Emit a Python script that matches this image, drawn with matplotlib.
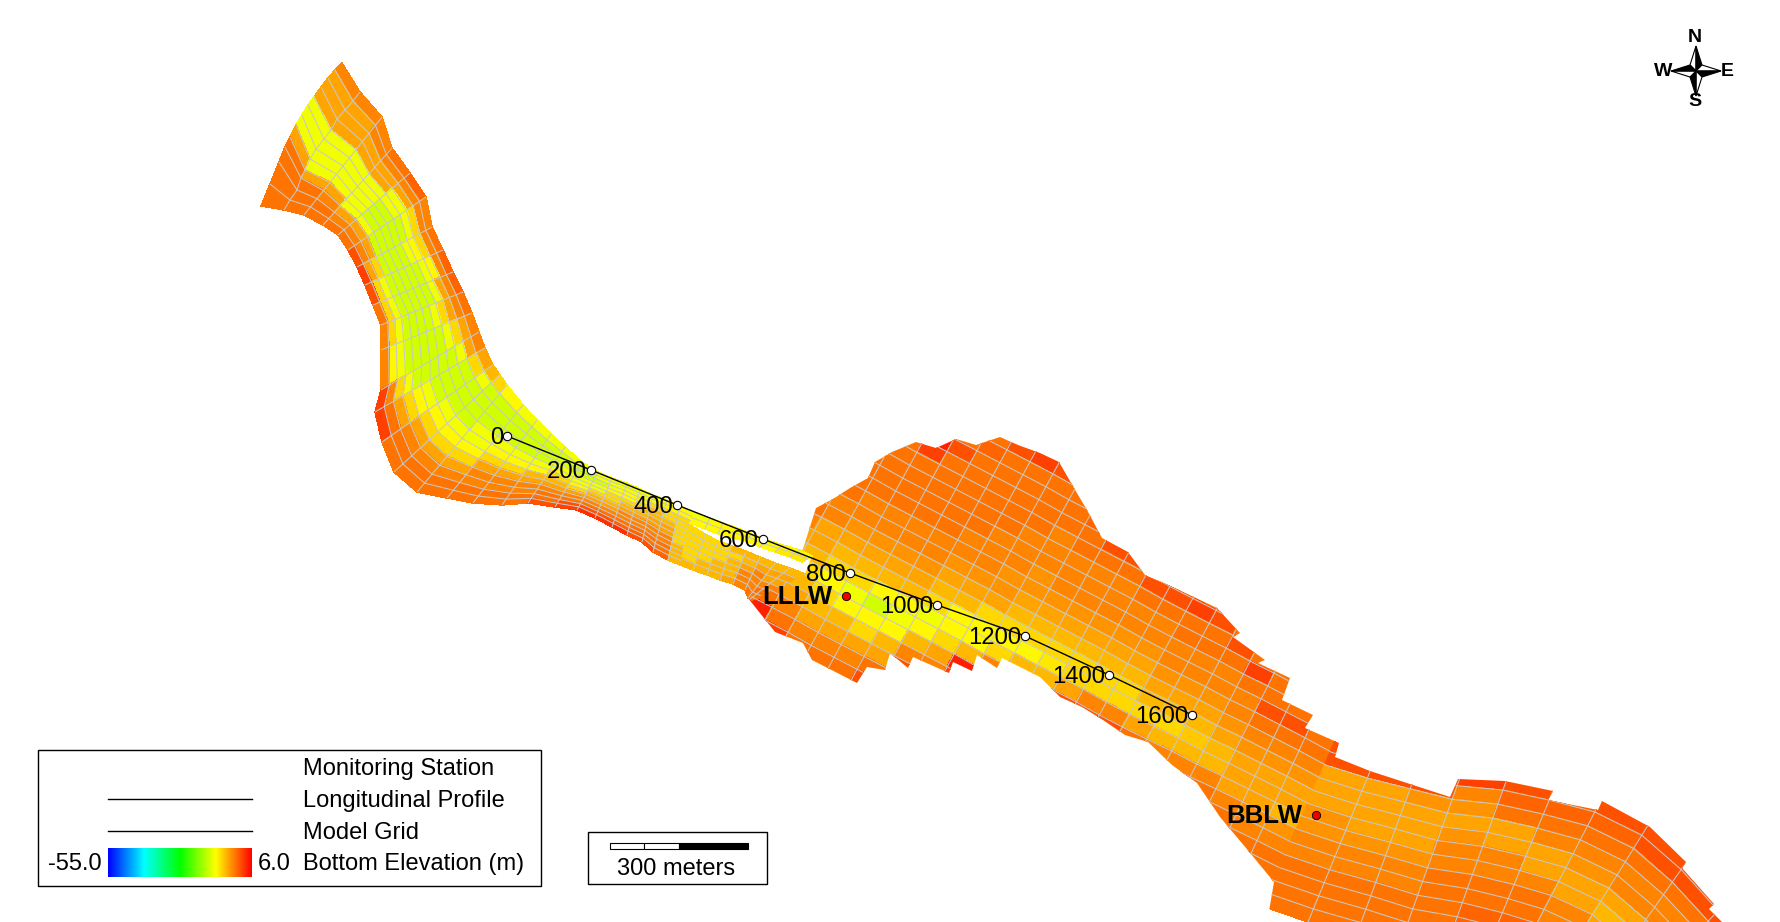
import numpy as np
import matplotlib
matplotlib.use("Agg")
import matplotlib.pyplot as plt
from matplotlib.collections import LineCollection
from matplotlib.colors import LinearSegmentedColormap, Normalize
from matplotlib.patches import Polygon, Rectangle

plt.rcParams['font.family'] = ['Liberation Sans', 'DejaVu Sans']

# map coordinates are image pixels
# upper reach: bank nodes of each cross section (NE bank, SW bank)
upper_ne = [(342,63),(360,92),(382,117),(392,148),(410,173),(426,197),(432,227),(443,250),(453,272),(463,292),
            (472,313),(479,332),(485,348),(493,365),(500,375),(507,385),(523,405),(537,420),(551,434),(565,447),
            (582,462),(598,472),(612,478),(627,483),(640,489),(653,495),(667,500),(680,506),(693,512)]
upper_sw = [(261,206),(284,210),(304,215),(323,225),(338,235),(348,250),(357,267),(365,285),(373,305),(381,325),
            (381,350),(381,390),(375,412),(382,442),(394,472),(417,492),(447,498),(473,503),(502,505),(528,503),
            (555,507),(577,510),(595,518),(612,527),(627,535),(642,542),(653,552),(668,560),(680,565)]
# the two head sections bow outwards
head_0 = [(342,63),(335,70),(328,78),(321,87),(314,97),(308,105),(302,115),(296,125),(290,137),(285,147),(279,162),(270,184),(261,206)]
head_1 = [(360,92),(353,101),(345,110),(337,119),(331,130),(324,139),(316,149),(310,159),(305,170),(301,178),(297,190),(290,200),(284,210)]
upper_elev = [
    [-2,-4,-4,-4,-10,-10,-10,-4,-1,-1,-1,-1],
    [-2,-4,-4,-4,-10,-10,-10,-10,-4,-1,-1,-1],
    [-2,-2,-4,-4,-10,-10,-10,-10,-4,-2,-1,-1],
    [-1,-2,-4,-4,-10,-10,-10,-10,-10,-4,-2,-1],
    [0,-2,-4,-10,-10,-12,-12,-12,-10,-4,-2,-1],
    [-2,-2,-7,-10,-12,-12,-12,-12,-12,-4,-2,1],
    [-1,-2,-7,-9,-10,-12,-12,-12,-12,-7,-4,2],
    [0,-2,-9,-10,-12,-12,-12,-12,-12,-10,-7,1],
    [0,-2,-4,-10,-12,-12,-12,-12,-12,-10,-7,-1],
    [-1,-2,-4,-7,-10,-12,-12,-12,-12,-10,-7,-2],
    [-2,-4,-7,-10,-12,-12,-12,-12,-12,-10,-9,-2],
    [-2,-4,-10,-12,-12,-12,-12,-12,-10,-7,-2,2],
    [-4,-7,-12,-12,-12,-12,-10,-9,-7,-4,-1,2],
    [-5,-10,-12,-12,-12,-10,-9,-7,-4,-2,-1,-1],
    [-7,-12,-12,-12,-12,-10,-9,-7,-4,-2,-1,-1],
    [-9,-12,-12,-12,-10,-10,-9,-7,-4,-2,-1,-1],
    [-10,-12,-12,-12,-10,-9,-7,-4,-2,-2,-1,-1],
    [-10,-12,-12,-12,-10,-9,-7,-4,-2,-2,-1,-1],
    [-10,-12,-12,-12,-10,-9,-5,-4,-2,-2,-1,-1],
    [-10,-12,-12,-10,-10,-7,-5,-4,-2,-1,-1,1],
    [-10,-12,-12,-10,-10,-9,-7,-4,-2,-1,1,2],
    [-10,-10,-12,-10,-10,-7,-5,-4,-2,-1,1,3],
    [-10,-10,-10,-9,-7,-7,-5,-4,-2,-1,1,3],
    [-10,-10,-9,-9,-7,-5,-4,-2,-2,-1,0,3],
    [-10,-9,-9,-7,-5,-5,-4,-2,-2,-1,0,1],
    [-10,-9,-7,-5,-5,-4,-4,-2,-2,-1,-1,1],
    [-9,-9,-7,-7,-5,-4,-4,-2,-2,-1,-1,0],
    [-9,-9,-7,-7,-7,-7,-7,-7,-5,-5,-5,-5],
]

# narrow yellow strip north of the white gap
strip_ne = [(693,512),(710,518),(723,523),(737,528),(752,534),(767,540),(783,545),(800,550),(812,556)]
strip_sw = [(690,523),(705,529),(718,534),(732,538),(746,541),(760,547),(775,552),(790,557),(802,562)]
strip_elev = [[-10,-9],[-9,-9],[-9,-9],[-9,-9],[-9,-9],[-9,-9],[-9,-8],[-9,-8]]

# channel south of the white gap
body_ne = [(690,525),(705,534),(718,541),(732,546),(746,551),(760,557),(775,563),(790,568),(805,574)]
body_sw = [(680,565),(693,570),(707,575),(720,580),(733,584),(745,590),(748,598),(750,599),(752,600)]
body_elev = [
    [-7,-7,-7,-7,-7,-5],
    [-7,-7,-7,-7,-5,-5],
    [-7,-7,-7,-5,-5,-5],
    [-5,-7,-5,-5,-5,-4],
    [-5,-5,-4,-2,-2,-2],
    [-5,-4,-2,-2,-2,-1],
    [-5,-4,-4,-2,-1,-1],
    [-5,-4,-4,-2,-1,-1],
]

# lake
lake_ne = [(876,364),(899,376),(922,388),(945,401),(968,413),(991,425),(1014,437),(1037,449),(1060,461),(1083,474),
           (1106,486),(1129,498),(1152,510),(1175,522),(1198,535),(1221,547),(1244,559),(1267,571),(1290,584),
           (1313,596),(1336,609),(1359,622),(1382,636)]
lake_sw = [(728,634),(751,646),(774,658),(797,671),(820,683),(843,695),(866,707),(889,719),(912,731),(935,744),
           (958,756),(981,768),(1004,780),(1027,792),(1050,805),(1073,817),(1098,829),(1124,841),(1150,854),
           (1177,866),(1205,879),(1233,892),(1262,906)]
lake_elev = [
    [-1,-1,-1,-1,-1,-1,-1,-1,-1,-1,-1,-2,-4,-5,-5,-4,-2,-1,4,2,2],
    [-1,-1,-1,-1,-1,-1,-1,-1,-1,-2,-2,-4,-4,-5,-7,-5,-4,-2,-1,2,2],
    [-1,-1,-1,-1,-1,-1,-1,-1,-2,-2,-3,-4,-5,-7,-9,-7,-5,-4,-2,-1,2],
    [-1,-1,4,2,-1,-1,-1,-1,-2,-2,-3,-4,-5,-7,-10,-9,-5,-4,-2,-1,2],
    [-1,-1,1,-1,-1,-1,-1,-1,-2,-2,-3,-4,-5,-9,-12,-9,-7,-4,-2,-1,3],
    [-1,0,-1,-1,-1,-1,-1,-1,-2,-2,-3,-4,-5,-9,-10,-9,-5,-4,-1,1,1],
    [1,-1,-1,-1,-1,-1,-1,-2,-2,-3,-4,-5,-7,-10,-9,-5,-2,1,3,3,3],
    [2,-1,-1,-1,-1,-1,-2,-2,-2,-3,-4,-5,-9,-9,-7,-4,-2,1,3,3,3],
    [1,-1,-1,-1,-1,-2,-2,-2,-3,-3,-4,-7,-9,-9,-5,4,2,3,3,3,3],
    [-1,-1,-1,-1,-2,-2,-2,-3,-3,-4,-5,-7,-9,-7,-2,1,1,1,1,1,1],
    [1,-1,0,-1,-1,-2,-2,-2,-3,-4,-5,-7,-9,-5,-2,1,1,1,1,1,1],
    [-1,-1,-1,1,-1,-2,-2,-2,-3,-4,-5,-7,-8,-5,-1,1,1,1,1,1,1],
    [-1,-1,-1,1,-1,-2,-2,-2,-3,-4,-5,-7,-7,-4,1,1,1,1,1,1,1],
    [-1,-1,-1,-1,1,-1,-2,-2,-3,-4,-5,-7,-7,-2,1,1,1,1,1,1,1],
    [-1,-1,-1,-1,1,-1,-2,-2,-3,-4,-5,-7,-7,-2,1,2,2,2,2,2,2],
    [-1,-1,-1,-1,2,-1,-1,-2,-2,-3,-4,-5,-7,-4,-1,2,2,2,2,2,2],
    [-1,-1,-1,-1,1,-1,-1,-2,-2,-3,-4,-5,-7,-5,-2,1,1,1,1,1,1],
    [-1,-1,-1,-1,-1,1,-1,-2,-2,-3,-4,-5,-6,-5,-2,1,1,1,1,1,1],
    [-1,-1,-1,-1,-1,-1,2,-1,-2,-2,-3,-4,-5,-5,-2,-1,1,1,1,1,1],
    [-1,-1,-1,-1,-1,-1,-1,-1,1,-1,-2,-3,-4,-4,-4,-2,-1,1,1,1,1],
    [-1,-1,-1,-1,-1,-1,-1,-1,1,-1,-2,-3,-4,-4,-4,-3,-2,-1,1,1,1],
    [-1,-1,-1,-1,-1,-1,-1,-1,-1,-1,-2,-3,-4,-4,-5,-3,-2,-1,-1,1,1],
]

# lower reach
lower_ne = [(1336,739),(1378,752),(1420,762),(1462,772),(1508,776),(1555,786),(1602,798),(1650,822),(1690,857),(1728,900),(1765,940)]
lower_sw = [(1262,906),(1308,922),(1356,936),(1398,950),(1442,959),(1479,969),(1508,979),(1543,994),(1575,1020),(1599,1038),(1640,1060)]
lower_elev = [
    [1,1,-4,-4,-4,-3,-3,-2,-2,-1,-1,-1,-1],
    [1,1,-4,-4,-4,-4,-3,-2,-2,-1,-1,-1,-1],
    [1,1,-3,-4,-4,-4,-3,-2,-2,-1,-1,-1,-1],
    [2,-2,-3,-4,-3,-2,-2,-1,-1,-1,-1,-1,-1],
    [1,0,-1,-4,-4,-2,-2,-1,-1,0,0,0,0],
    [0,0,-1,-2,-4,-4,-2,-1,-1,0,0,0,0],
    [1,0,-1,-2,-3,-4,-4,-2,-2,-1,0,0,0],
    [1,1,-1,-2,-2,-4,-5,-4,-2,-1,-1,0,0],
    [1,1,-1,-2,-2,-3,-4,-5,-4,-2,-1,-1,0],
    [1,1,-1,-2,-2,-3,-4,-5,-4,-2,-1,-1,0],
]

# silhouette of lake + lower reach
lake_outline = [(802,552),(816,508),(833,499),(850,488),(868,478),(875,462),(892,452),(916,442),(936,448),(956,439),
                (976,445),(1000,437),(1018,445),(1040,453),(1059,462),(1074,488),(1087,510),(1102,538),(1128,552),
                (1145,575),(1168,585),(1194,597),(1217,608),(1240,633),(1233,637),(1265,660),(1258,663),(1290,678),
                (1282,700),(1313,715),(1305,728),(1339,743),(1335,757),(1370,771),(1410,784),(1450,797),(1458,779),
                (1505,781),(1553,791),(1548,800),(1598,810),(1602,801),(1650,827),(1686,862),(1682,868),(1714,904),
                (1709,909),(1735,935),(1265,935),(1274,882),(1246,848),(1220,817),(1197,783),(1172,765),(1148,742),
                (1125,735),(1103,720),(1082,707),(1060,697),(1040,677),(1002,658),(997,668),(977,655),(972,671),
                (953,662),(949,673),(913,657),(908,668),(890,653),(885,670),(867,667),(857,683),(812,660),(803,643),
                (775,632),(748,598),(805,574),(812,556)]

# longitudinal profile
profile_labels = ['0','200','400','600','800','1000','1200','1400','1600']
profile_x = [507,591,677,763,850,937,1025,1109,1192]
profile_y = [436,470,505,539,573,605,636,675,715]

stations = ['LLLW','BBLW']
station_x = [846,1316]
station_y = [596,815]

cmap = LinearSegmentedColormap.from_list('bottom', ['#0000ff','#00ffff','#00ff00','#ffff00','#ff0000'])
norm = Normalize(-55.0, 6.0)
GRID = '#c8c8c8'


def draw_block(ax, ne, sw, elev, clip=None, rows=None):
    # nodes of a block, straight across between the two end nodes of a section
    ne = np.array(ne, float)
    sw = np.array(sw, float)
    elev = np.array(elev, float)
    frac = np.linspace(0, 1, elev.shape[1] + 1)
    x = np.outer(ne[:, 0], 1 - frac) + np.outer(sw[:, 0], frac)
    y = np.outer(ne[:, 1], 1 - frac) + np.outer(sw[:, 1], frac)
    if rows:
        for i, row in rows.items():
            x[i] = [p[0] for p in row]
            y[i] = [p[1] for p in row]
    m = ax.pcolormesh(x, y, elev, cmap=cmap, norm=norm, edgecolors='face', linewidth=0.3, shading='flat')
    # grid lines, inner ones only: the banks have no line in the reference
    segs = [np.column_stack([x[i], y[i]]) for i in range(1, x.shape[0] - 1)]
    segs += [np.column_stack([x[:, j], y[:, j]]) for j in range(1, x.shape[1] - 1)]
    lines = LineCollection(segs, colors=GRID, linewidths=0.75)
    ax.add_collection(lines)
    if clip is not None:
        m.set_clip_path(clip)
        lines.set_clip_path(clip)


fig = plt.figure(figsize=(17.8, 9.22), dpi=100)
ax = fig.add_axes([0, 0, 1, 1])
ax.set_xlim(0, 1780)
ax.set_ylim(922, 0)
ax.axis('off')

outline = Polygon(lake_outline, closed=True, transform=ax.transData)
draw_block(ax, lake_ne, lake_sw, lake_elev, outline)
draw_block(ax, lower_ne, lower_sw, lower_elev, outline)
draw_block(ax, upper_ne, upper_sw, upper_elev, rows={0: head_0, 1: head_1})
draw_block(ax, strip_ne, strip_sw, strip_elev)
draw_block(ax, body_ne, body_sw, body_elev)

ax.plot(profile_x, profile_y, color='black', lw=1.0, zorder=5)
ax.plot(profile_x, profile_y, ls='none', marker='o', ms=6, mfc='white', mec='black', mew=0.8, zorder=6)
for lab, x, y in zip(profile_labels, profile_x, profile_y):
    ax.text(x - 4, y + 2, lab, ha='right', va='center', fontsize=17.2, zorder=7)

ax.plot(station_x, station_y, ls='none', marker='o', ms=6, mfc='#ee0000', mec='black', mew=0.6, zorder=6)
for name, x, y in zip(stations, station_x, station_y):
    ax.text(x - 14, y + 1, name, ha='right', va='center', fontsize=18.5, fontweight='bold', zorder=7)

# legend box
ax.add_patch(Rectangle((38, 749.5), 502.5, 136, fc='white', ec='black', lw=1.0, zorder=8))
for y, lab in zip([768.5, 800.5, 832.5, 863.5], ['Monitoring Station', 'Longitudinal Profile', 'Model Grid', 'Bottom Elevation (m)']):
    ax.text(303, y, lab, ha='left', va='center', fontsize=17, zorder=9)
ax.plot([108, 252], [798.5, 798.5], color='black', lw=1.0, zorder=9)
ax.plot([108, 252], [830.5, 830.5], color='black', lw=1.0, zorder=9)
ax.imshow(np.linspace(0, 1, 256).reshape(1, -1), cmap=cmap, extent=(108, 252, 876.5, 847.5), aspect='auto', zorder=9)
ax.text(102, 863.5, '-55.0', ha='right', va='center', fontsize=17, zorder=9)
ax.text(258, 863.5, '6.0', ha='left', va='center', fontsize=17, zorder=9)
ax.set_xlim(0, 1780)
ax.set_ylim(922, 0)

# scale bar
ax.add_patch(Rectangle((587.5, 831.5), 179, 52, fc='white', ec='black', lw=1.0, zorder=8))
ax.add_patch(Rectangle((609.5, 842.5), 34.5, 6, fc='white', ec='black', lw=0.8, zorder=9))
ax.add_patch(Rectangle((644, 842.5), 34.5, 6, fc='white', ec='black', lw=0.8, zorder=9))
ax.add_patch(Rectangle((678.5, 842.5), 69, 6, fc='black', ec='black', lw=0.8, zorder=9))
ax.text(676.5, 869, '300 meters', ha='center', va='center', fontsize=17, zorder=9)

# north arrow
cx, cy = 1696, 71
arm = 25
inner = 6
tips = [(0, -arm), (arm, 0), (0, arm), (-arm, 0)]
sides = [(inner, -inner), (inner, inner), (-inner, inner), (-inner, -inner)]
others = [(-inner, -inner), (inner, -inner), (inner, inner), (-inner, inner)]
for tip, dark, light in zip(tips, sides, others):
    t = (cx + tip[0], cy + tip[1])
    ax.add_patch(Polygon([(cx, cy), t, (cx + light[0], cy + light[1])], fc='white', ec='black', lw=0.8, zorder=9))
    ax.add_patch(Polygon([(cx, cy), t, (cx + dark[0], cy + dark[1])], fc='black', ec='black', lw=0.8, zorder=9))
for lab, x, y in [('N', 1695, 38), ('S', 1695, 101), ('W', 1663, 71), ('E', 1727, 71)]:
    ax.text(x, y, lab, ha='center', va='center', fontsize=14, fontweight='bold', zorder=10)

fig.savefig('out.png', dpi=100)
